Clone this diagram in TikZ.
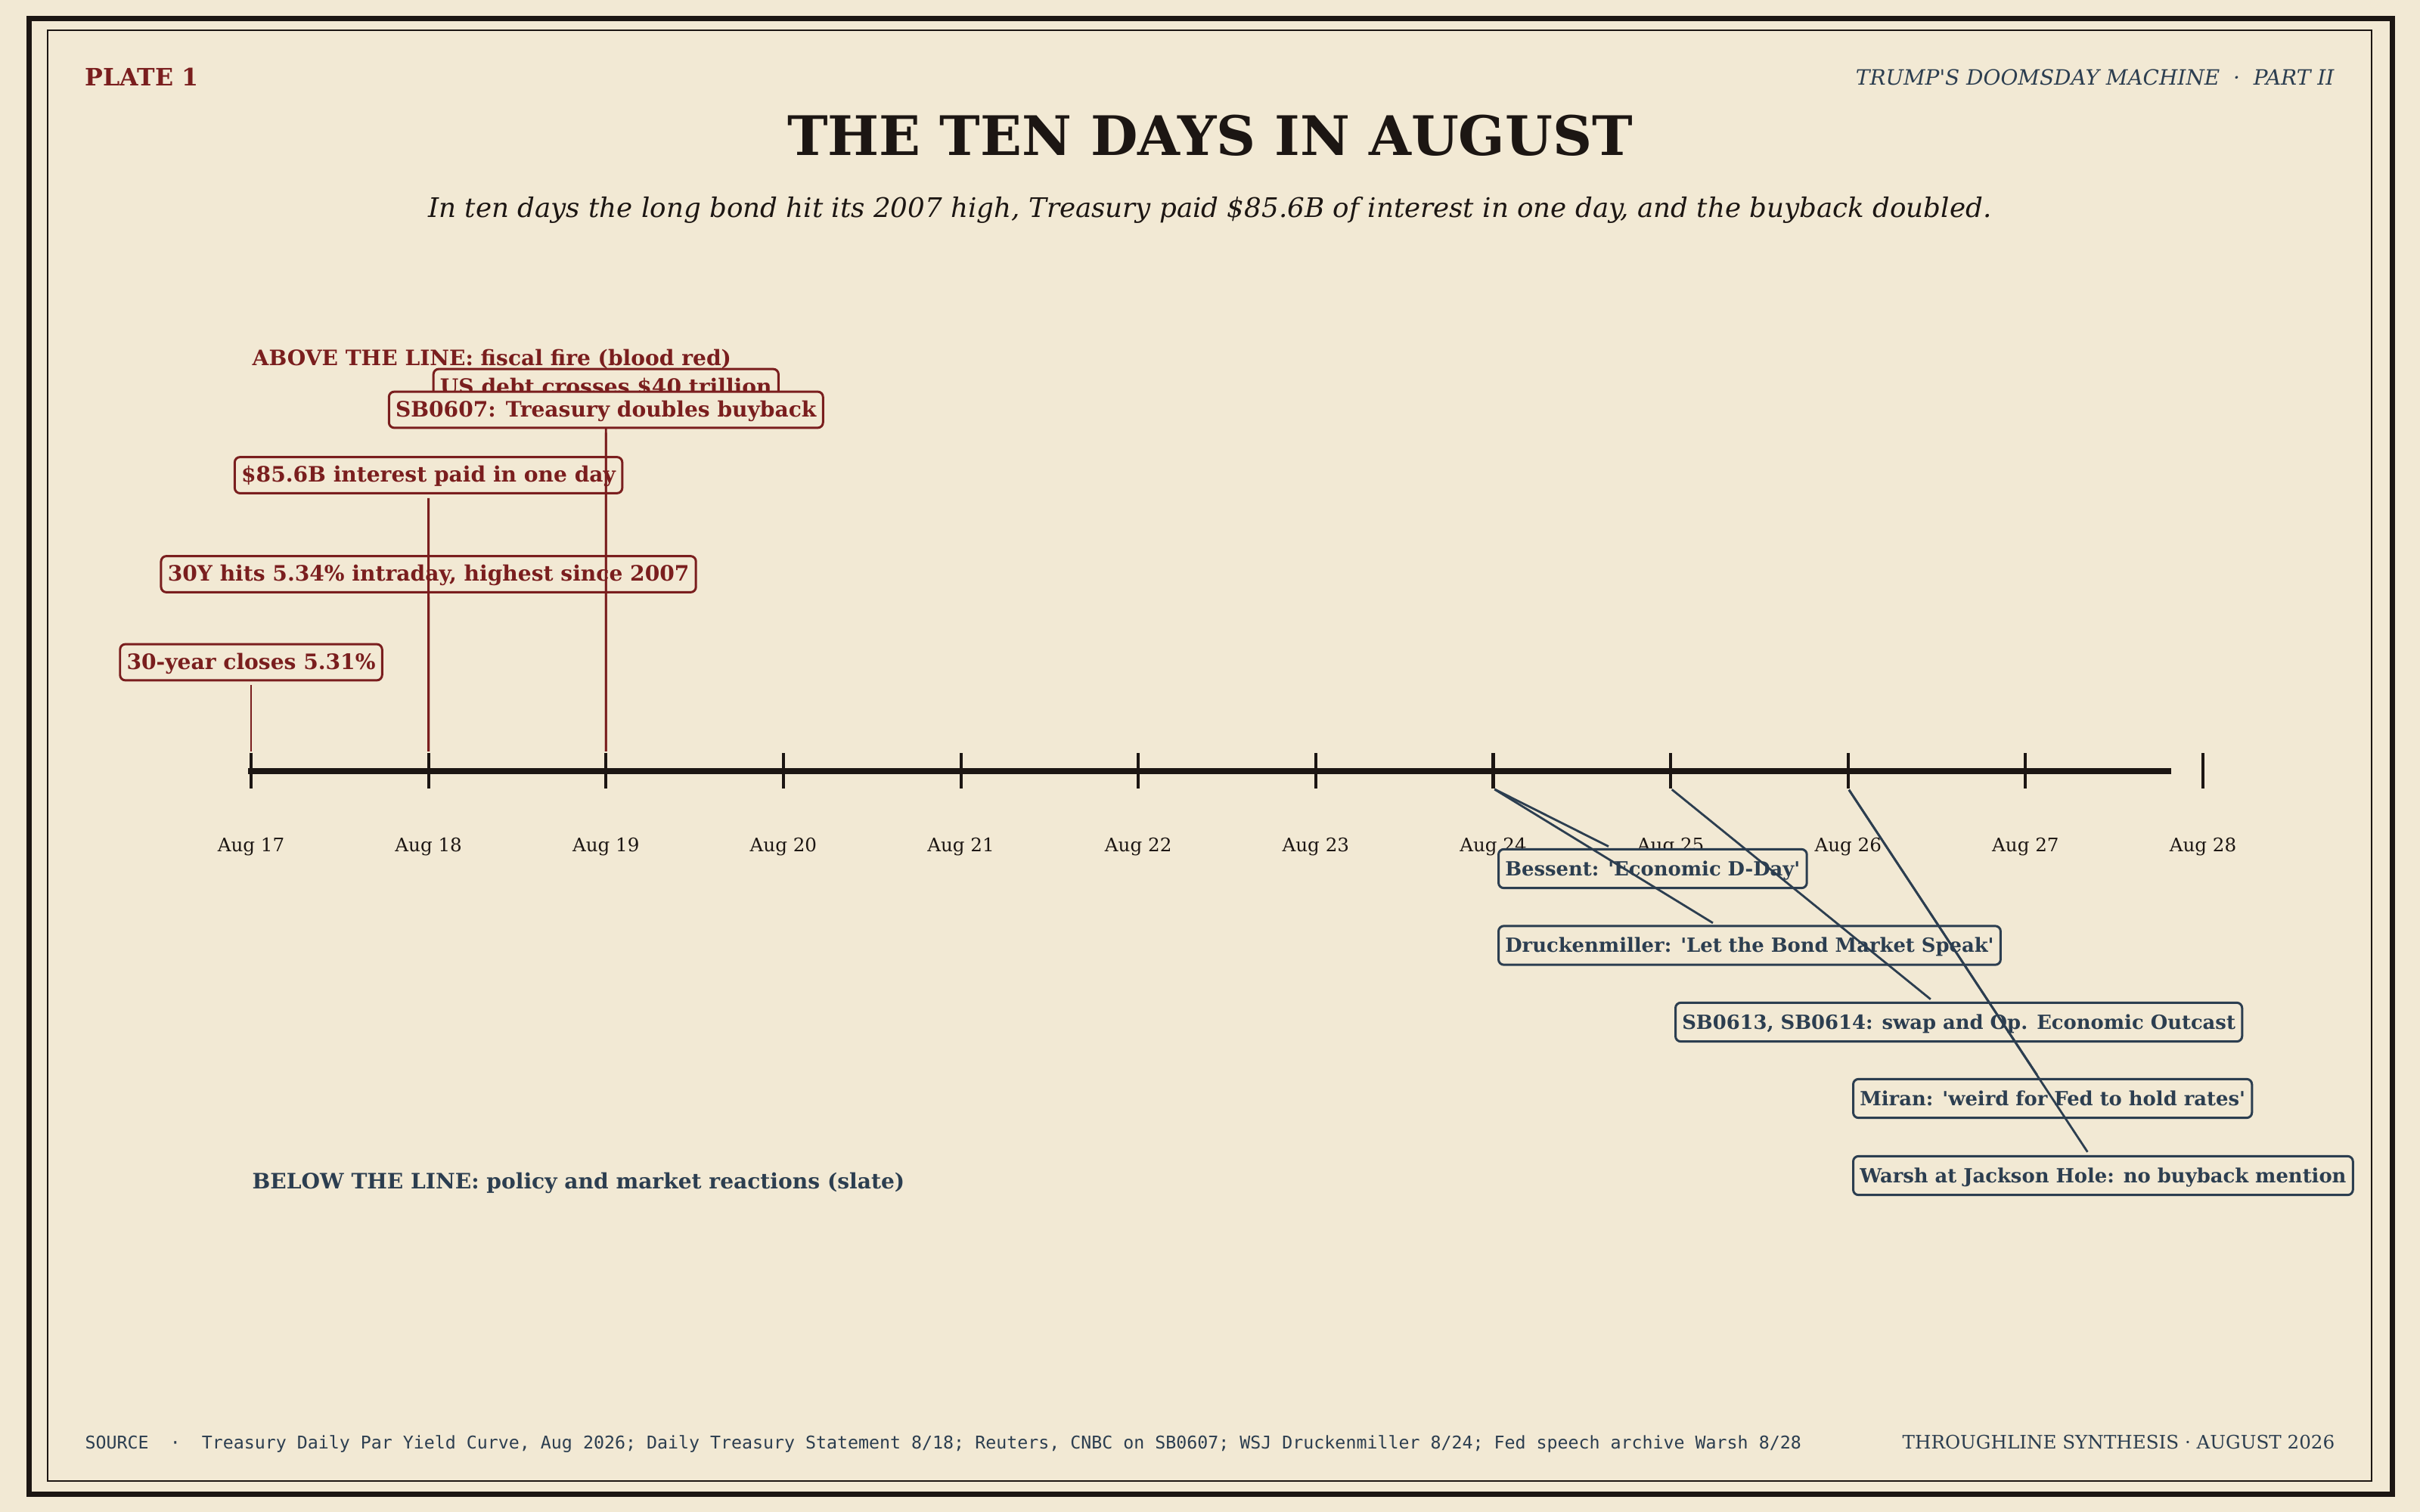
\documentclass[tikz,border=0pt]{standalone}
\usepackage{fontspec}
\setmainfont{DejaVu Serif}
\setmonofont{DejaVu Sans Mono}

\definecolor{paper}{HTML}{F2E9D4}
\definecolor{blood}{HTML}{7A1E1E}
\definecolor{slate}{HTML}{2C3E50}
\definecolor{ink}{HTML}{1C1613}

\newcommand{\sq}{\textquotesingle}

\tikzset{
  firebox/.style={draw=blood, fill=paper, text=blood, line width=0.85pt,
    rounded corners=2pt, inner xsep=2.5pt, inner ysep=1.8pt,
    text height=0.76em, text depth=0.24em,
    font=\bfseries\fontsize{8}{9}\selectfont},
  slatebox/.style={firebox, draw=slate, text=slate, anchor=west,
    inner ysep=2.3pt, font=\bfseries\fontsize{7.35}{9}\selectfont},
  stem/.style={blood, line width=0.8pt, shorten <=1.4pt, shorten >=0.6pt},
  link/.style={slate, line width=0.8pt, shorten <=0.6pt, shorten >=1.4pt},
  daylabel/.style={text=ink, anchor=base, font=\fontsize{7}{8}\selectfont},
  plain/.style={inner sep=0pt}
}

\begin{document}
\begin{tikzpicture}
  \useasboundingbox (0,0) rectangle (32,-20);
  \fill[paper] (0,0) rectangle (32,-20);

  % frames
  \draw[ink, line width=0.07cm] (0.385,-0.245) rectangle (31.63,-19.76);
  \draw[ink, line width=0.02cm] (0.63,-0.395) rectangle (31.36,-19.59);

  % header
  \node[plain, anchor=base west, text=blood, font=\bfseries\fontsize{9}{11}\selectfont] (plate) at (1.12,-1.13) {PLATE 1};
  \node[plain, anchor=base east, text=slate, font=\itshape\fontsize{7.95}{10}\selectfont] (series) at (30.87,-1.12) {TRUMP\sq S DOOMSDAY MACHINE \ · \ PART II};
  \node[plain, anchor=base, text=ink, font=\bfseries\fontsize{20.5}{24}\selectfont] (title) at (16,-2.05) {THE TEN DAYS IN AUGUST};
  \node[plain, anchor=base, text=ink, font=\itshape\fontsize{10.15}{12}\selectfont] (subtitle) at (16,-2.87) {In ten days the long bond hit its 2007 high, Treasury paid \$85.6B of interest in one day, and the buyback doubled.};

  % legends
  \node[plain, anchor=base west, text=blood, font=\bfseries\fontsize{8}{9}\selectfont] (above) at (3.33,-4.83) {ABOVE THE LINE: fiscal fire (blood red)};
  \node[plain, anchor=base west, text=slate, font=\bfseries\fontsize{8}{9}\selectfont] (below) at (3.33,-15.72) {BELOW THE LINE: policy and market reactions (slate)};

  % time axis
  \foreach \d [count=\i from 0] in {17,...,28} {
    \coordinate (top\d) at ({3.32+2.3464*\i},-9.96);
    \coordinate (bot\d) at ({3.32+2.3464*\i},-10.43);
    \draw[ink, line width=1.15pt] (top\d) -- (bot\d);
    \node[daylabel] (day\d) at ({3.32+2.3464*\i},-11.26) {Aug \d};
  }
  \draw[ink, line width=0.08cm] (3.28,-10.2) -- (28.71,-10.2);

  % above the line
  \node[firebox] (close17) at (3.32,-8.76) {30-year closes 5.31\%};
  \draw[stem] (close17) -- (top17);
  \node[firebox] (hits18) at (5.666,-7.595) {30Y hits 5.34\% intraday, highest since 2007};
  \draw[stem] (hits18) -- (top18);
  \node[firebox] (interest18) at (5.666,-6.285) {\$85.6B interest paid in one day};
  \draw[stem] (interest18) -- (top18);
  \node[firebox] (debt19) at (8.013,-5.12) {US debt crosses \$40 trillion};
  \draw[stem] (debt19) -- (top19);
  \node[firebox] (buyback19) at (8.013,-5.42) {SB0607: Treasury doubles buyback};
  \draw[stem] (buyback19) -- (top19);

  % below the line
  \node[slatebox] (bessent) at (19.80,-11.49) {Bessent: \sq Economic D-Day\sq};
  \draw[link] (bot24) -- (bessent);
  \node[slatebox] (druck) at (19.80,-12.505) {Druckenmiller: \sq Let the Bond Market Speak\sq};
  \draw[link] (bot24) -- (druck);
  \node[slatebox] (swap) at (22.14,-13.52) {SB0613, SB0614: swap and Op. Economic Outcast};
  \draw[link] (bot25) -- (swap);
  \node[slatebox] (miran) at (24.49,-14.53) {Miran: \sq weird for Fed to hold rates\sq};
  \draw[link] (bot26) -- (miran);
  \node[slatebox] (warsh) at (24.49,-15.55) {Warsh at Jackson Hole: no buyback mention};
  \draw[link] (bot26) -- (warsh);

  % footer
  \node[plain, anchor=base west, text=slate, font=\ttfamily\fontsize{6.62}{8}\selectfont] (source) at (1.12,-19.16) {SOURCE \ · \ Treasury Daily Par Yield Curve, Aug 2026; Daily Treasury Statement 8/18; Reuters, CNBC on SB0607; WSJ Druckenmiller 8/24; Fed speech archive Warsh 8/28};
  \node[plain, anchor=base east, text=slate, font=\fontsize{7}{8}\selectfont] (credit) at (30.88,-19.16) {THROUGHLINE SYNTHESIS · AUGUST 2026};
\end{tikzpicture}
\end{document}
